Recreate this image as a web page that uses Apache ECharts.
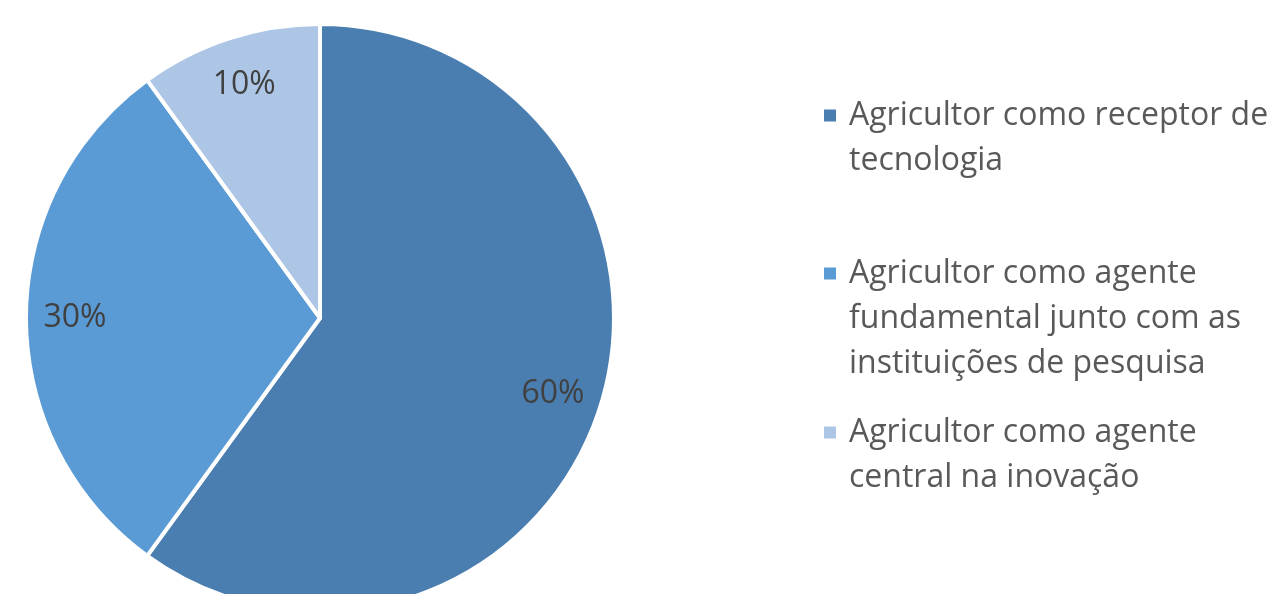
<!DOCTYPE html>
<html><head><meta charset="utf-8">
<script src="https://cdn.jsdelivr.net/npm/echarts@6/dist/echarts.min.js"></script>
<style>html,body{margin:0;padding:0;background:#fff}#c{width:1273px;height:594px}</style>
</head><body><div id="c"></div>
<script>
const categories = [
  'Agricultor como receptor de\ntecnologia',
  'Agricultor como agente\nfundamental junto com as\ninstituições de pesquisa',
  'Agricultor como agente\ncentral na inovação'
];
const values = [60, 30, 10];
const colors = ['#4a7eb0', '#5b9bd5', '#adc6e6'];

const FONT = 'Open Sans';
const LH = 45;
const iconCenters = [122, 280, 439];

const chart = echarts.init(document.getElementById('c'));
const data = categories.map((n, i) => ({ name: n, value: values[i], itemStyle: { color: colors[i] } }));
const legends = categories.map((n, i) => {
  const lines = n.split('\n');
  const k = lines.length;
  const blockH = (2 * k - 1) * LH;
  return {
    left: 822, top: iconCenters[i] - blockH / 2, orient: 'vertical', padding: 0,
    itemWidth: 14, itemHeight: 14, itemGap: 0, icon: 'rect',
    selectedMode: false,
    data: [n],
    formatter: function (name) {
      const ls = name.split('\n');
      const pre = [];
      for (let j = 0; j < ls.length - 1; j++) pre.push('{t| }');
      return pre.concat(ls.map(l => '{t|' + l + '}')).join('\n');
    },
    textStyle: {
      rich: { t: { fontFamily: FONT, fontSize: 32, color: '#595959', lineHeight: LH, padding: [0, 0, 0, 7] } }
    }
  };
});
chart.setOption({
  animation: false,
  legend: legends,
  series: [{
    type: 'pie', center: [320, 318], radius: 294, startAngle: 90, clockwise: true,
    data: data,
    itemStyle: { borderColor: '#fff', borderWidth: 4 },
    label: { show: false }, labelLine: { show: false }, silent: true
  }, {
    type: 'pie', center: [320, 318], radius: [190, 294], startAngle: 90, clockwise: true,
    data: data.map(d => ({ name: d.name, value: d.value, itemStyle: { color: 'transparent' } })),
    itemStyle: { borderWidth: 0 },
    label: { show: true, position: 'inside', formatter: '{c}%', fontFamily: FONT, fontSize: 32, color: '#404040' },
    labelLine: { show: false }, silent: true
  }]
});
</script></body></html>
